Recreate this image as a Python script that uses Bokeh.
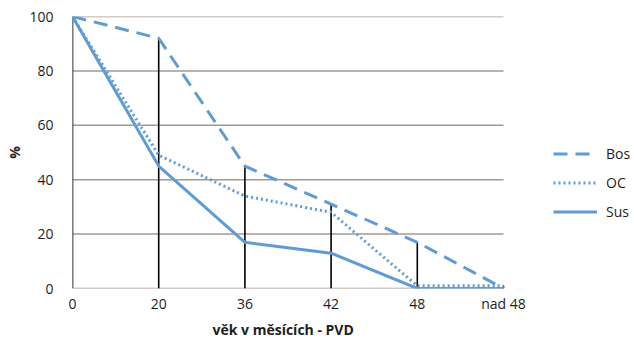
from bokeh.plotting import figure
from bokeh.models import Range1d, Legend, LegendItem, FixedTicker, ColumnDataSource, Title
from bokeh.embed import file_html
from bokeh.resources import INLINE

categories = ["0", "20", "36", "42", "48", "nad 48"]
bos = [100, 92, 45, 31, 17, 0]
oc = [100, 49, 34, 28, 1, 1]
sus = [100, 45, 17, 13, 0, 0]
y_ticks = [0, 20, 40, 60, 80, 100]

xs = list(range(len(categories)))
tops = [max(a, b, c) for a, b, c in zip(bos, oc, sus)]
src = ColumnDataSource(dict(x=xs, bos=bos, oc=oc, sus=sus, top=tops, zero=[0] * len(xs)))
grid_src = ColumnDataSource(dict(x0=[0] * len(y_ticks), x1=[len(categories) - 1] * len(y_ticks),
                                 y=y_ticks))

FONT = "Open Sans"
BLUE = "#5f9bd5"
GRID = "#a39a92"
TEXT = "#1e1e1e"

# frame runs from x=72 to the right edge; categories occupy 72..503
x_end = (len(categories) - 1) * (634 - 72) / (503 - 72)

p = figure(width=634, height=340, output_backend="svg", toolbar_location=None,
           x_range=Range1d(0, x_end), y_range=Range1d(0, 100),
           min_border_left=72, min_border_right=0, min_border_top=16, min_border_bottom=52)
p.outline_line_color = None
p.background_fill_color = "white"
p.border_fill_color = "white"

p.xgrid.visible = False
p.ygrid.visible = False
p.yaxis.ticker = FixedTicker(ticks=y_ticks)
p.xaxis.ticker = FixedTicker(ticks=xs)
p.xaxis.major_label_overrides = {i: c for i, c in enumerate(categories)}

for ax in (p.xaxis[0], p.yaxis[0]):
    ax.major_tick_line_color = None
    ax.minor_tick_line_color = None
    ax.axis_line_color = None
    ax.major_label_text_font = FONT
    ax.major_label_text_font_size = "14px"
    ax.major_label_text_color = TEXT
    ax.axis_label_text_font = FONT
    ax.axis_label_text_font_size = "14px"
    ax.axis_label_text_font_style = "bold"
    ax.axis_label_text_color = TEXT
p.yaxis.axis_label = "%"
p.xaxis.major_label_standoff = -1
p.yaxis.major_label_standoff = 13
p.yaxis.axis_label_standoff = 2

p.add_layout(Title(text="věk v měsících - PVD", align="left", offset=140,
                   text_font=FONT, text_font_size="14px", text_font_style="bold",
                   text_color=TEXT, standoff=4), "below")

p.segment(x0="x0", y0="y", x1="x1", y1="y", source=grid_src, line_color=GRID, line_width=1.5)
p.segment(x0="x", y0="zero", x1="x", y1="top", source=src, line_color="black", line_width=1.6)

r_bos = p.line("x", "bos", source=src, line_color=BLUE, line_width=3, line_dash="14 8")
r_oc = p.line("x", "oc", source=src, line_color=BLUE, line_width=3, line_dash="2 3")
r_sus = p.line("x", "sus", source=src, line_color=BLUE, line_width=3)

legend = Legend(items=[LegendItem(label="Bos", renderers=[r_bos]),
                       LegendItem(label="OC", renderers=[r_oc]),
                       LegendItem(label="Sus", renderers=[r_sus])],
                location=(481, 62), glyph_width=44, glyph_height=29, label_height=29,
                spacing=0, padding=2, margin=0, label_standoff=9, border_line_color=None,
                background_fill_alpha=0, label_text_font=FONT, label_text_font_size="14px",
                label_text_color=TEXT)
p.add_layout(legend)

open("out.html", "w").write(file_html(p, INLINE))
